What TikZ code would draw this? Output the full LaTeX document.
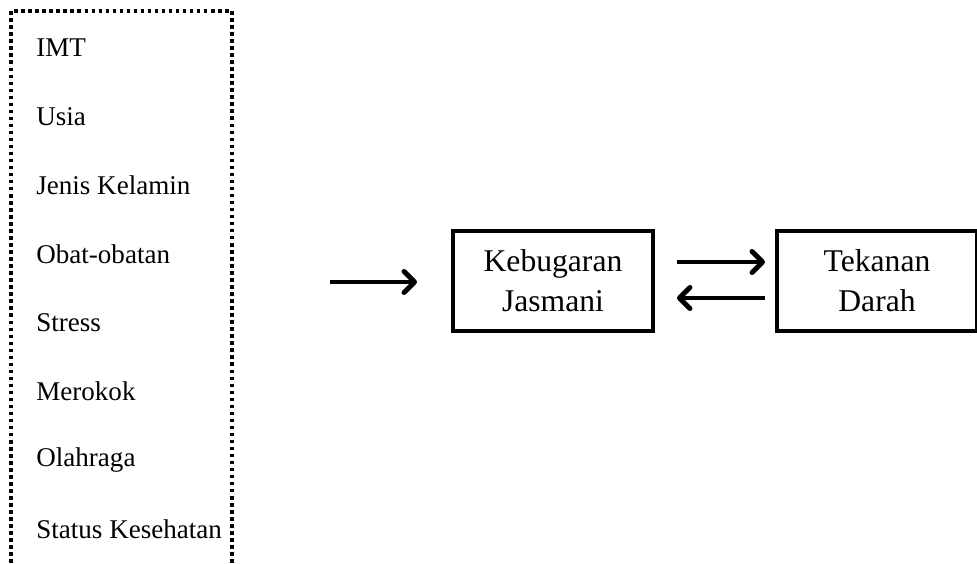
\documentclass[tikz,border=0pt]{standalone}
\usepackage{fontspec}
\setmainfont{Liberation Serif}
\usetikzlibrary{arrows.meta}

\begin{document}
\begin{tikzpicture}[x=0.02cm,y=-0.02cm,
	factor/.style={anchor=west,inner sep=0pt,font=\fontsize{15.4}{18}\selectfont},
	varbox/.style={draw,line width=2.3pt,minimum width=4cm,minimum height=2cm,align=center,font=\fontsize{18}{22.7}\selectfont},
	flow/.style={line width=2.8pt,-{Straight Barb[length=6pt,width=12pt,line width=2.8pt,round]}}]
	\useasboundingbox (0,0) rectangle (977,564);

	%FACTOR LIST
	\draw[line width=2pt,dash pattern=on 2pt off 2pt] (11,570)--(11,11)--(232,11)--(232,570);
	\foreach \t [count=\i] in {IMT,Usia,Jenis Kelamin,Obat-obatan,Stress,Merokok,Olahraga,Status Kesehatan}
		\node[factor] (f\i) at (36,{48+68.7*(\i-1)}) {\t};

	%BOXES
	\node[varbox] (Kebugaran) at (553,281) {Kebugaran\\Jasmani};
	\node[varbox] (Tekanan) at (877,281) {Tekanan\\Darah};

	%ARROWS
	\coordinate (inS) at (330,282);
	\coordinate (inE) at (417,282);
	\coordinate (fwS) at (677,262);
	\coordinate (fwE) at (765,262);
	\coordinate (bkS) at (765,298);
	\coordinate (bkE) at (677,298);
	\draw[flow] (inS)--(inE);
	\draw[flow] (fwS)--(fwE);
	\draw[flow] (bkS)--(bkE);
\end{tikzpicture}
\end{document}
